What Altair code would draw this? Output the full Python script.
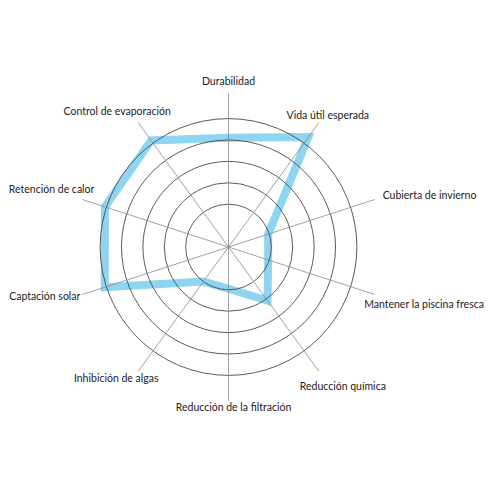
import altair as alt
import pandas as pd

# ---- data ----
categories = [
    "Durabilidad",
    "Vida útil esperada",
    "Cubierta de invierno",
    "Mantener la piscina fresca",
    "Reducción química",
    "Reducción de la filtración",
    "Inhibición de algas",
    "Captación solar",
    "Retención de calor",
    "Control de evaporación",
]
values = [5.1, 6.35, 1.95, 1.95, 3.1, 1.95, 2.0, 6.08, 6.07, 6.15]
rings = [2, 3, 4, 5, 6]
axis_max = 6
spoke_extent = 7.18

# ---- style / layout ----
PX = 21.4            # pixels per value unit
W = H = 476
CX, CY = 220.5, 239.0  # centre in view pixels
FONT = "Lato"
FS = 10.5
label_style = {
    "Durabilidad": ("center", 0, -11),
    "Vida útil esperada": ("center", 9, -6.5),
    "Cubierta de invierno": ("left", 8, -3.5),
    "Mantener la piscina fresca": ("left", -10.5, 10.5),
    "Reducción química": ("center", 24, 15.5),
    "Reducción de la filtración": ("center", 5, 7),
    "Inhibición de algas": ("center", -22, 8),
    "Captación solar": ("right", -2, 3),
    "Retención de calor": ("right", 12, -9.5),
    "Control de evaporación": ("center", -21, -10.5),
}

n = len(categories)
xdom = [-CX / PX, (W - CX) / PX]
ydom = [-(H - CY) / PX, CY / PX]
xs = alt.Scale(domain=xdom, nice=False, zero=False)
ys = alt.Scale(domain=ydom, nice=False, zero=False)

ang = f"datum.idx * 2 * PI / {n}"

poly_df = pd.DataFrame({
    "cat": categories + categories[:1],
    "value": values + values[:1],
    "idx": list(range(n + 1)),
})
spoke_df = pd.DataFrame({"cat": categories, "idx": list(range(n))})
ring_df = pd.DataFrame({"r": rings})

polygon = (
    alt.Chart(poly_df)
    .transform_calculate(a=ang)
    .transform_calculate(px="datum.value * sin(datum.a)", py="datum.value * cos(datum.a)")
    .mark_line(color="#8fd4f1", strokeWidth=8, strokeJoin="miter", strokeCap="butt")
    .encode(
        x=alt.X("px:Q", scale=xs, axis=None),
        y=alt.Y("py:Q", scale=ys, axis=None),
        order="idx:Q",
    )
)

ring_layer = (
    alt.Chart(ring_df)
    .mark_arc(filled=False, stroke="#4a4a4a", strokeWidth=0.9, theta=0, theta2=6.2832)
    .encode(
        x=alt.X(datum=0, scale=xs, axis=None),
        y=alt.Y(datum=0, scale=ys, axis=None),
        radius=alt.Radius(
            "r:Q",
            stack=None,
            scale=alt.Scale(type="linear", domain=[0, axis_max], range=[0, axis_max * PX], zero=True),
        ),
    )
)

spokes = (
    alt.Chart(spoke_df)
    .transform_calculate(a=ang)
    .transform_calculate(
        ex=f"{spoke_extent} * sin(datum.a)",
        ey=f"{spoke_extent} * cos(datum.a)",
        ox="0",
        oy="0",
    )
    .mark_rule(color="#8a8a8a", strokeWidth=0.8)
    .encode(
        x=alt.X("ox:Q", scale=xs, axis=None),
        y=alt.Y("oy:Q", scale=ys, axis=None),
        x2="ex:Q",
        y2="ey:Q",
    )
)

label_layers = []
for c in categories:
    al, dx, dy = label_style[c]
    label_layers.append(
        alt.Chart(spoke_df)
        .transform_filter(alt.datum.cat == c)
        .transform_calculate(a=ang)
        .transform_calculate(
            ex=f"{spoke_extent} * sin(datum.a)",
            ey=f"{spoke_extent} * cos(datum.a)",
        )
        .mark_text(align=al, baseline="middle", dx=dx, dy=dy, font=FONT, fontSize=FS, color="#222222")
        .encode(
            x=alt.X("ex:Q", scale=xs, axis=None),
            y=alt.Y("ey:Q", scale=ys, axis=None),
            text="cat:N",
        )
    )

chart = (
    alt.layer(polygon, ring_layer, spokes, *label_layers)
    .properties(width=W, height=H, autosize=alt.AutoSizeParams(type="none"), padding=0, background="white")
    .configure_view(stroke=None)
)

chart.save("out.html", embed_options={"renderer": "svg", "actions": False})
